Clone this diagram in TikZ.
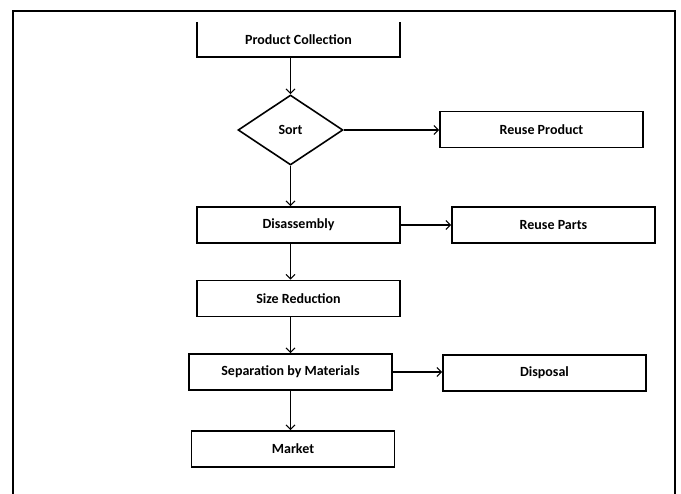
\documentclass[tikz,border=0pt]{standalone}
\usepackage{fontspec}
\setmainfont{Carlito}
\usetikzlibrary{shapes.geometric,arrows.meta}

\begin{document}
\begin{tikzpicture}[x=1pt,y=-1pt,
		box/.style={minimum width=203pt,minimum height=36pt,inner sep=0pt,font=\fontsize{14}{16}\selectfont\bfseries},
		arr/.style={line width=1.1pt,-{Straight Barb[length=4.5pt,width=9pt,line width=1.1pt]}}]
			\clip (0,0) rectangle (681,494);
			% outer frame
			\draw[line width=1.5pt] (13,520) -- (13,11) -- (675,11) -- (675,520);
			% first box, drawn without its top edge
			\node[box] (pc) at (298.5,39.5) [minimum height=35pt] {Product Collection};
			\draw[line width=1.6pt] (pc.north west) -- (pc.south west) -- (pc.south east) -- (pc.north east);
			\node[box,draw,line width=1.6pt,shape=diamond,aspect=1.5,minimum width=105pt,minimum height=70pt] (sort) at (290.5,130) {Sort};
			%Boxes
			\foreach \n/\x/\y/\t in {rprod/541.5/129.5/Reuse Product, dis/298.5/225/Disassembly, rparts/553.5/225/Reuse Parts,
				size/298.5/298.5/Size Reduction, sep/290.5/372/Separation by Materials, disp/544.5/373/Disposal, mkt/293/449/Market}
			{\node[box,draw,line width=1.6pt] (\n) at (\x,\y) {\t};}
			% arrows
			\draw[arr] (pc.south -| sort.north) -- (sort.north);
			\draw[arr] (sort.south) -- (sort.south |- dis.north);
			\draw[arr] (dis.south -| sort.south) -- (size.north -| sort.south);
			\draw[arr] (size.south -| sort.south) -- (sep.north -| sort.south);
			\draw[arr] (sep.south -| sort.south) -- (mkt.north -| sort.south);
			\draw[arr] (sort.east) -- (rprod.west |- sort.east);
			\draw[arr] (dis.east) -- (rparts.west |- dis.east);
			\draw[arr] (sep.east) -- (disp.west |- sep.east);
\end{tikzpicture}
\end{document}
